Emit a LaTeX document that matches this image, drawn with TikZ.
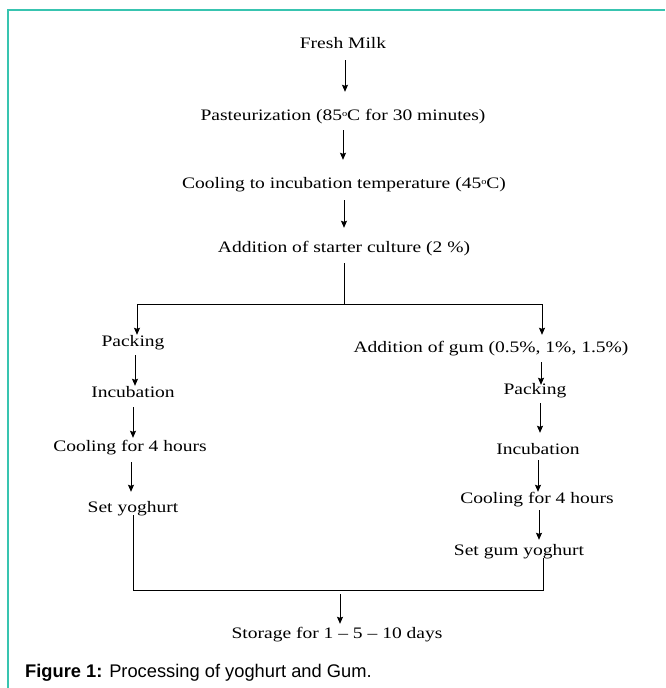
\documentclass[tikz,border=0pt]{standalone}
\usepackage{fontspec}
\setmainfont[FakeStretch=1.22]{Liberation Serif}
\newfontfamily\capfont{Liberation Sans}
\usetikzlibrary{arrows.meta}
\definecolor{framecol}{RGB}{56,196,176}
\newcommand{\degsup}{\raisebox{3.5pt}{\fontsize{8.5}{9}\selectfont o}}
\begin{document}
\begin{tikzpicture}[x=1pt,y=-1pt,
  lbl/.style={inner sep=0pt, font=\fontsize{16}{18}\selectfont, text height=11pt, text depth=3pt},
  arr/.style={-{Stealth[length=7pt,width=6pt,inset=1pt]}, line width=0.9pt},
  ln/.style={line width=0.9pt}]
\useasboundingbox (0,0) rectangle (665,688);
\draw[framecol, line width=1.5pt] (8,688) -- (8,10) -- (665,10);
% main column
\node[lbl] (fm) at (343,44) {Fresh Milk};
\node[lbl] (pa) at (343,116) {Pasteurization (85\degsup C for 30 minutes)};
\node[lbl] (co) at (344,184) {Cooling to incubation temperature (45\degsup C)};
\node[lbl] (st) at (344,248) {Addition of starter culture (2 \%)};
% left column
\node[lbl] (lp) at (133,342) {Packing};
\node[lbl] (li) at (133,393) {Incubation};
\node[lbl] (lc) at (130,447) {Cooling for 4 hours};
\node[lbl] (ly) at (133,508) {Set yoghurt};
% right column
\node[lbl] (rg) at (491,348) {Addition of gum (0.5\%, 1\%, 1.5\%)};
\node[lbl] (rp) at (535,390) {Packing};
\node[lbl] (ri) at (538,450) {Incubation};
\node[lbl] (rc) at (537,499) {Cooling for 4 hours};
\node[lbl] (ry) at (519,551) {Set gum yoghurt};
% storage
\node[lbl] (so) at (337,634) {Storage for 1 -- 5 -- 10 days};
\node[anchor=west, inner sep=0pt, font=\capfont\fontsize{18.3}{20}\selectfont] (cap) at (25,673) {\textbf{Figure 1:} Processing of yoghurt and Gum.};
% coordinates
\coordinate (split) at (344,304);
\coordinate (sl) at (137,304);
\coordinate (sr) at (542,304);
\coordinate (jl) at (133,590);
\coordinate (jr) at (543,590);
\coordinate (join) at (340,590);
% main arrows
\draw[arr, shorten <=9pt, shorten >=17pt] ([xshift=2pt]fm.south) -- ([xshift=2pt]fm.south |- pa.north);
\draw[arr, shorten <=7pt, shorten >=17pt] (pa.south) -- (pa.south |- co.north);
\draw[arr, shorten <=9pt, shorten >=13pt] (co.south) -- (co.south |- st.north);
\draw[ln, shorten <=8pt] (st.south) -- (split);
\draw[ln] (sl) -- (sr);
\draw[arr] (sl) -- (sl |- lp.north);
\draw[arr, shorten >=6pt] (sr) -- (sr |- rg.north);
% left arrows
\draw[arr, shorten <=6pt] ([xshift=2pt]lp.south) -- ([xshift=2pt]lp.south |- li.north);
\draw[arr, shorten <=7pt, shorten >=2pt] (li.south) -- (li.south |- lc.north);
\draw[arr, shorten <=8pt, shorten >=9pt] ([xshift=1pt]lc.south) -- ([xshift=1pt]lc.south |- ly.north);
% right arrows
\draw[arr, shorten <=7pt, shorten >=-2pt] ([xshift=6pt]rp.north |- rg.south) -- ([xshift=6pt]rp.north);
\draw[arr, shorten <=6pt, shorten >=10pt] ([xshift=5pt]rp.south) -- ([xshift=5pt]rp.south |- ri.north);
\draw[arr, shorten <=3pt, shorten >=0pt] (ri.south) -- (ri.south |- rc.north);
\draw[arr, shorten <=4pt, shorten >=4pt] ([xshift=2pt]rc.south) -- ([xshift=2pt]rc.south |- ry.north);
% join
\draw[ln] (ly.south) -- (jl) -- (jr) -- ([xshift=24pt]ry.south |- jr) -- ([xshift=24pt]ry.south);
\draw[arr, shorten <=4pt, shorten >=3pt] (join) -- (join |- so.north);
\end{tikzpicture}
\end{document}
